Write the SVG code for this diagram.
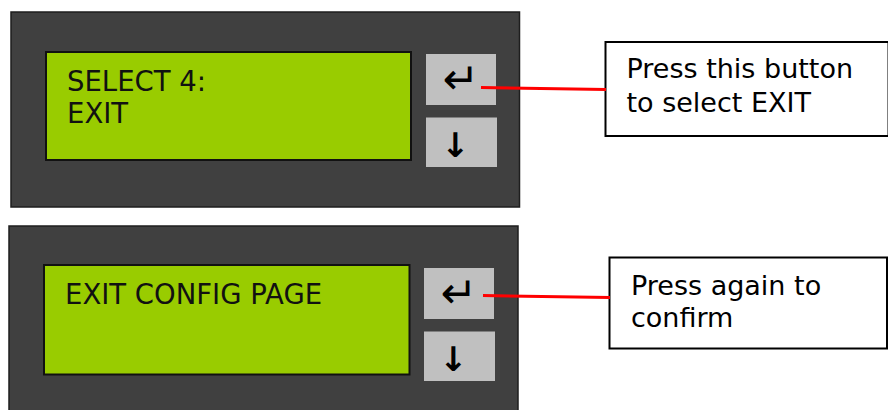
<svg xmlns="http://www.w3.org/2000/svg" width="888" height="410" viewBox="0 0 888 410">
<style>
.panel{fill:#404040;stroke:#1e1e1e;stroke-width:1.5}
.lcd{fill:#99cc00;stroke:#111;stroke-width:2}
.btn{fill:#c0c0c0}
.lcdt{font-family:"DejaVu Sans",Verdana,sans-serif;font-size:27.5px;fill:#111}
.ret{font-family:"DejaVu Sans",sans-serif;font-size:44px;fill:#000;text-anchor:middle}
.dn{font-family:"DejaVu Sans",sans-serif;font-size:34px;font-weight:bold;fill:#000;text-anchor:middle}
.call{fill:#fff;stroke:#000;stroke-width:2}
.ct{font-family:"DejaVu Sans",Verdana,sans-serif;font-size:27px;fill:#000}
.wire{stroke:#ff0000;stroke-width:3;fill:none}
</style>
<rect width="888" height="410" fill="#fff"/>
<g id="panel1">
<rect class="panel" x="11" y="12" width="508.5" height="195"/>
<rect class="lcd" x="46" y="52" width="365" height="108"/>
<text class="lcdt" x="67" y="90.5">SELECT 4:</text>
<text class="lcdt" x="67" y="122.5">EXIT</text>
<rect class="btn" x="426" y="54" width="70" height="51"/>
<text class="ret" x="461" y="94">↵</text>
<rect class="btn" x="426" y="117.5" width="71" height="49.5"/>
<text class="dn" x="455.5" y="157">↓</text>
</g>
<g id="callout1">
<rect class="call" x="605.5" y="42" width="283" height="94"/>
<text class="ct" x="626.5" y="78">Press this button</text>
<text class="ct" x="626.5" y="112">to select EXIT</text>
</g>
<g id="panel2">
<rect class="panel" x="9" y="226" width="509" height="190"/>
<rect class="lcd" x="44" y="265" width="365.5" height="109.5"/>
<text class="lcdt" x="65" y="303.5">EXIT CONFIG PAGE</text>
<rect class="btn" x="424" y="268" width="70" height="51"/>
<text class="ret" x="459" y="308">↵</text>
<rect class="btn" x="424" y="331.5" width="71" height="49.5"/>
<text class="dn" x="453.5" y="371">↓</text>
</g>
<g id="callout2">
<rect class="call" x="609.5" y="257.5" width="277.5" height="91"/>
<text class="ct" x="631" y="295">Press again to</text>
<text class="ct" x="631" y="327">confirm</text>
</g>
<g id="connectors">
<line class="wire" x1="481" y1="87.5" x2="606" y2="89.5"/>
<line class="wire" x1="483" y1="295.5" x2="610" y2="297.5"/>
</g>
</svg>
